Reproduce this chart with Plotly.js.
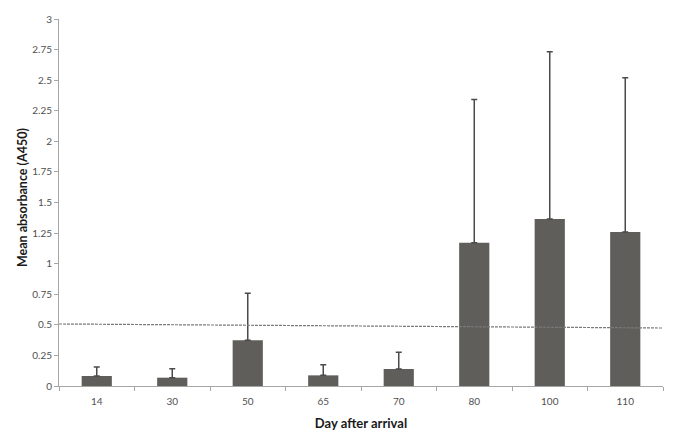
<!DOCTYPE html>
<html>
<head>
<meta charset="utf-8">
<script src="https://cdn.plot.ly/plotly-3.0.1.min.js"></script>
<style>html,body{margin:0;padding:0;background:#fff;}#chart{width:685px;height:441px;}</style>
</head>
<body>
<div id="chart"></div>
<script>
// Data
var days = ["14", "30", "50", "65", "70", "80", "100", "110"];
var meanAbsorbance = [0.082, 0.068, 0.374, 0.087, 0.139, 1.172, 1.366, 1.259];
var errorUpper = [0.073, 0.072, 0.384, 0.087, 0.136, 1.17, 1.367, 1.26];
var thresholdX = [0, 1];
var thresholdY = [0.507, 0.474];
var yTickVals = [0, 0.25, 0.5, 0.75, 1, 1.25, 1.5, 1.75, 2, 2.25, 2.5, 2.75, 3];
var yTickText = ["0", "0.25", "0.5", "0.75", "1", "1.25", "1.5", "1.75", "2", "2.25", "2.5", "2.75", "3"];
var yTitle = "Mean absorbance (A450)";
var xTitle = "Day after arrival";

var font = "Lato, 'Open Sans', sans-serif";

var bars = {
  type: "bar",
  x: days,
  y: meanAbsorbance,
  width: 0.4,
  marker: {color: "#5f5e5a", line: {width: 0}},
  error_y: {type: "data", symmetric: false, array: errorUpper, arrayminus: days.map(function(){return 0;}),
            color: "#4a4a4a", thickness: 1.5, width: 3},
  hoverinfo: "skip"
};

var threshold = {
  type: "scatter",
  mode: "lines",
  x: thresholdX,
  y: thresholdY,
  xaxis: "x2",
  yaxis: "y",
  line: {color: "#7a7a7a", width: 1.2, dash: "3px,1px"},
  hoverinfo: "skip"
};

var layout = {
  width: 685,
  height: 441,
  margin: {l: 59, r: 22, t: 19, b: 55},
  paper_bgcolor: "#ffffff",
  plot_bgcolor: "#ffffff",
  showlegend: false,
  bargap: 0.6,
  font: {family: font, size: 10, color: "#595959"},
  xaxis: {
    type: "category",
    showgrid: false,
    zeroline: false,
    showline: true,
    linecolor: "#a6a6a6",
    linewidth: 1,
    ticks: "outside",
    tickson: "boundaries",
    ticklen: 4,
    tickcolor: "#a6a6a6",
    ticklabelstandoff: 6,
    tickfont: {family: font, size: 10, color: "#505050"},
    title: {text: xTitle, font: {family: font, size: 13, color: "#1a1a1a", weight: "bold"}, standoff: 12}
  },
  xaxis2: {
    overlaying: "x",
    range: [0, 1],
    visible: false,
    fixedrange: true
  },
  yaxis: {
    range: [0, 3],
    tickmode: "array",
    tickvals: yTickVals,
    ticktext: yTickText,
    showgrid: false,
    zeroline: false,
    showline: true,
    linecolor: "#a6a6a6",
    linewidth: 1,
    ticks: "outside",
    ticklen: 4,
    tickcolor: "#a6a6a6",
    tickfont: {family: font, size: 10, color: "#505050"}
  },
  annotations: [{
    text: yTitle,
    xref: "paper", yref: "paper",
    x: 0, xshift: -37, xanchor: "center",
    y: 0.512, yanchor: "middle",
    textangle: -90,
    showarrow: false,
    font: {family: font, size: 12.5, color: "#1a1a1a", weight: "bold"}
  }]
};

Plotly.newPlot("chart", [bars, threshold], layout, {displayModeBar: false, staticPlot: true});
</script>
</body>
</html>
